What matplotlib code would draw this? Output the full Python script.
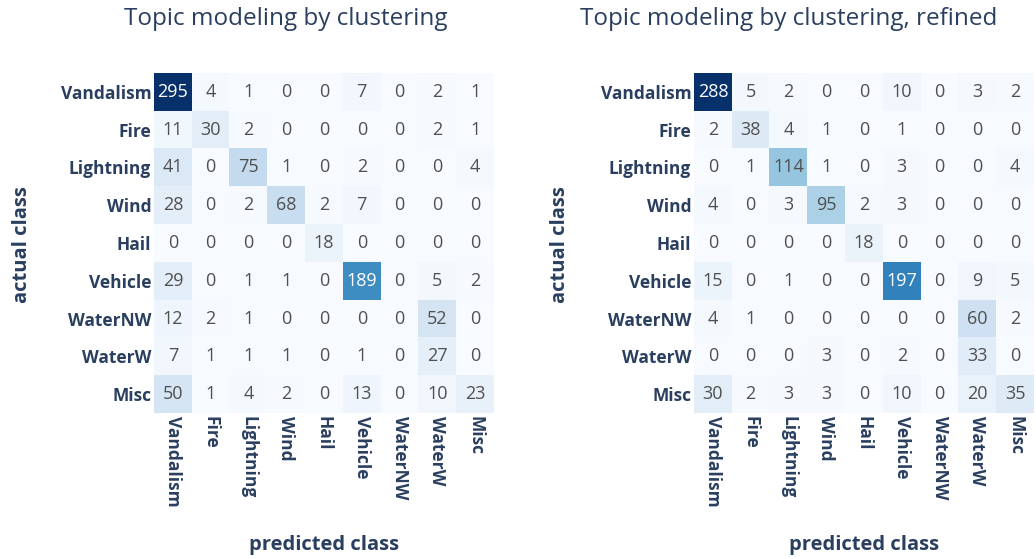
import numpy as np
import matplotlib.pyplot as plt

plt.rcParams['font.family'] = ['Open Sans', 'DejaVu Sans']

classes = ['Vandalism', 'Fire', 'Lightning', 'Wind', 'Hail',
           'Vehicle', 'WaterNW', 'WaterW', 'Misc']

cm_clustering = [
    [295, 4, 1, 0, 0, 7, 0, 2, 1],
    [11, 30, 2, 0, 0, 0, 0, 2, 1],
    [41, 0, 75, 1, 0, 2, 0, 0, 4],
    [28, 0, 2, 68, 2, 7, 0, 0, 0],
    [0, 0, 0, 0, 18, 0, 0, 0, 0],
    [29, 0, 1, 1, 0, 189, 0, 5, 2],
    [12, 2, 1, 0, 0, 0, 0, 52, 0],
    [7, 1, 1, 1, 0, 1, 0, 27, 0],
    [50, 1, 4, 2, 0, 13, 0, 10, 23],
]

cm_refined = [
    [288, 5, 2, 0, 0, 10, 0, 3, 2],
    [2, 38, 4, 1, 0, 1, 0, 0, 0],
    [0, 1, 114, 1, 0, 3, 0, 0, 4],
    [4, 0, 3, 95, 2, 3, 0, 0, 0],
    [0, 0, 0, 0, 18, 0, 0, 0, 0],
    [15, 0, 1, 0, 0, 197, 0, 9, 5],
    [4, 1, 0, 0, 0, 0, 0, 60, 2],
    [0, 0, 0, 3, 0, 2, 0, 33, 0],
    [30, 2, 3, 3, 0, 10, 0, 20, 35],
]

titles = ['Topic modeling by clustering', 'Topic modeling by clustering, refined']

W, H = 1036, 559
fig = plt.figure(figsize=(W / 100, H / 100), dpi=100)

label_col = '#2a3f5f'
lefts = [154, 694]
title_x = [286, 789]
ylab_x = [22, 560]
side = 340
top = 73

for left, tx, yx, cm, title in zip(lefts, title_x, ylab_x, [cm_clustering, cm_refined], titles):
    ax = fig.add_axes([left / W, 1 - (top + side) / H, side / W, side / H])
    data = np.array(cm)
    ax.imshow(data, cmap='Blues', vmin=0, vmax=data.max(), aspect='auto')
    for i in range(data.shape[0]):
        for j in range(data.shape[1]):
            v = data[i, j]
            col = 'white' if v / data.max() > 0.5 else '#505050'
            ax.text(j, i, str(v), ha='center', va='center', fontsize=13, color=col)
    ax.set_xticks(range(len(classes)))
    ax.set_yticks(range(len(classes)))
    ax.set_xticklabels(classes, rotation=270, fontsize=12.5, fontweight='bold', color=label_col)
    ax.set_yticklabels(classes, fontsize=12.5, fontweight='bold', color=label_col)
    ax.tick_params(length=0, pad=2)
    for s in ax.spines.values():
        s.set_visible(False)
    fig.text((left + side / 2) / W, 1 - 545 / H, 'predicted class', ha='center', va='center',
             fontsize=14.5, fontweight='bold', color=label_col)
    fig.text(yx / W, 1 - 245 / H, 'actual class', ha='center', va='center', rotation=90,
             fontsize=14.5, fontweight='bold', color=label_col)
    fig.text(tx / W, 1 - 19 / H, title, ha='center', va='center', fontsize=17.5, color=label_col)

fig.savefig('out.png', dpi=100)
